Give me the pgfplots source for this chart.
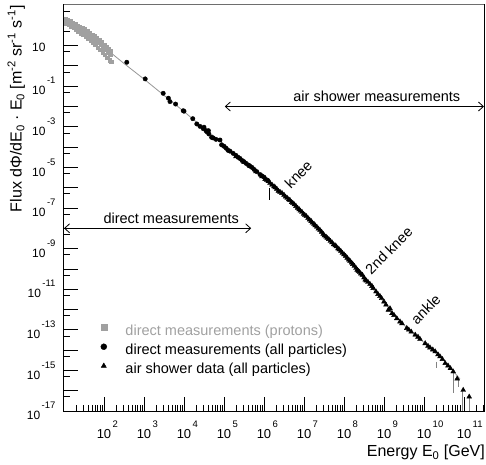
\documentclass[border=0pt]{standalone}
\usepackage{pgfplots}
\pgfplotsset{compat=1.18}
\usepackage{fontspec}
\setmainfont{Liberation Sans}
\usetikzlibrary{arrows.meta}
\definecolor{protgray}{RGB}{160,160,160}
\definecolor{linegray}{RGB}{150,150,150}
\definecolor{framegray}{RGB}{110,110,110}
\definecolor{errgray}{RGB}{130,130,130}

\newcommand\xl[1]{10\rlap{\kern1.5bp\raisebox{11bp}{\fontsize{9.5bp}{10bp}\selectfont #1}}}
\newcommand\yl[1]{10\kern1.5bp\raisebox{11bp}{\fontsize{9.5bp}{10bp}\selectfont #1}}
\newcommand\ylz{10\kern1.5bp\raisebox{11bp}{\fontsize{9.5bp}{10bp}\selectfont\hphantom{-1}}}

\def\xminor{11.30103,11.47712}
\foreach \n in {1,...,10}{\foreach \k in {2,...,9}{\pgfmathparse{\n+log10(\k)}\xdef\xminor{\xminor,\pgfmathresult}}}
\def\yminor{-16.30103}
\foreach \n in {-15,...,3}{\pgfmathparse{\n-0.30103}\xdef\yminor{\yminor,\pgfmathresult}}

\begin{document}
\begin{tikzpicture}
\begin{axis}[
  name=ax,
  at={(0,0)}, anchor=south west,
  scale only axis,
  width=420bp, height=406bp,
  xmin=1, xmax=11.5, ymin=-17, ymax=3,
  clip=false,
  axis line style={line width=1bp},
  xtick={2,...,11},
  xticklabels={\xl{2},\xl{3},\xl{4},\xl{5},\xl{6},\xl{7},\xl{8},\xl{9},\xl{10},\xl{11}},
  minor xtick/.expanded={\xminor},
  ytick={-17,...,2},
  yticklabels={\yl{-17},{},\yl{-15},{},\yl{-13},{},\yl{-11},{},\yl{-9},{},\yl{-7},{},\yl{-5},{},\yl{-3},{},\yl{-1},{},\ylz,{}},
  minor ytick/.expanded={\yminor},
  xtick pos=bottom, ytick pos=left,
  tick align=inside,
  major tick length=14bp, minor tick length=6bp,
  every tick/.style={black, line width=0.8bp},
  xticklabel style={font=\fontsize{13bp}{15bp}\selectfont, yshift=-6bp},
  yticklabel style={font=\fontsize{12bp}{14bp}\selectfont, xshift=-5bp},
  legend style={at={(axis cs:1.92,-12.74)}, anchor=north west, draw=none, fill=none,
     inner sep=0pt, outer sep=0pt, row sep=5.2bp, column sep=18.7bp,
     font=\fontsize{14.5bp}{17bp}\selectfont,
     nodes={inner sep=0pt, text height=10.5bp, text depth=3.5bp}},
  legend cell align=left,
  legend image code/.code={\draw[#1] plot coordinates {(0bp,4bp)};},
  legend image post style={mark size=3bp},
]
% fit line
\addplot[linegray, line width=0.8bp, forget plot] table {
1.0 2.40
1.5 1.65
2.0 0.92
2.5 0.12
3.0 -0.65
3.5 -1.45
4.0 -2.25
4.5 -3.08
5.0 -3.86
5.5 -4.68
6.0 -5.50
6.5 -6.33
7.0 -7.32
7.5 -8.35
8.0 -9.36
8.5 -10.46
9.0 -11.65
9.5 -12.77
10.0 -13.63
10.5 -14.53
10.9 -15.42
};
% direct measurements (protons)
\addplot[only marks, mark=square*, mark size=1.7bp, color=protgray, mark options={draw=protgray, fill=protgray}] table {
1.04 2.33
1.10 2.27
1.16 2.20
1.22 2.13
1.28 2.06
1.34 1.99
1.40 1.92
1.46 1.86
1.52 1.80
1.58 1.74
1.64 1.64
1.70 1.55
1.76 1.47
1.82 1.38
1.88 1.27
1.94 1.16
2.00 1.05
2.06 0.95
2.12 0.84
2.17 0.74
1.06 2.11
1.12 2.04
1.18 1.96
1.24 1.88
1.30 1.79
1.36 1.70
1.42 1.61
1.48 1.53
1.54 1.45
1.60 1.37
1.66 1.26
1.72 1.15
1.78 1.03
1.84 0.91
1.90 0.79
1.96 0.66
2.02 0.54
2.08 0.41
2.14 0.28
2.18 0.20
1.07 2.22
1.13 2.15
1.19 2.08
1.25 2.00
1.31 1.92
1.37 1.84
1.43 1.76
1.49 1.69
1.55 1.62
1.61 1.55
1.67 1.45
1.73 1.35
1.79 1.25
1.85 1.14
1.91 1.03
1.97 0.91
2.03 0.79
2.09 0.67
2.15 0.55
};
\addlegendentry{\textcolor{protgray}{direct measurements (protons)}}
% direct measurements (all particles)
\addplot[only marks, mark=*, mark size=2.2bp, black] table {
2.57 0.18
3.03 -0.64
3.48 -1.35
3.61 -1.59
3.65 -1.76
3.79 -1.88
3.98 -2.21
4.00 -2.23
4.22 -2.60
4.32 -2.86
4.40 -2.98
4.48 -3.09
4.50 -3.02
4.55 -3.19
4.57 -3.24
4.61 -3.19
4.62 -3.35
4.69 -3.52
4.73 -3.55
4.80 -3.62
4.90 -3.65
4.94 -3.89
5.00 -3.96
5.05 -4.05
5.10 -4.16
5.15 -4.20
5.23 -4.31
5.30 -4.41
5.35 -4.50
5.40 -4.56
5.45 -4.66
5.50 -4.72
5.55 -4.80
5.61 -4.88
5.65 -4.94
5.70 -5.00
5.75 -5.10
5.82 -5.21
5.90 -5.35
5.95 -5.42
6.00 -5.48
6.10 -5.65
};
\addlegendentry{direct measurements (all particles)}
% air shower data
\addplot[only marks, mark=triangle*, mark size=2.8bp, black] table {
5.30 -4.46
5.50 -4.74
5.65 -4.95
5.80 -5.20
5.95 -5.45
6.03 -5.58
6.07 -5.62
6.11 -5.68
6.15 -5.77
6.20 -5.86
6.25 -5.94
6.28 -5.99
6.32 -6.06
6.36 -6.16
6.40 -6.21
6.45 -6.27
6.50 -6.36
6.54 -6.45
6.58 -6.51
6.62 -6.58
6.65 -6.62
6.69 -6.72
6.72 -6.76
6.76 -6.83
6.80 -6.91
6.84 -7.00
6.88 -7.07
6.91 -7.14
6.95 -7.20
6.99 -7.30
7.02 -7.35
7.06 -7.41
7.10 -7.50
7.14 -7.58
7.18 -7.65
7.21 -7.73
7.25 -7.79
7.28 -7.86
7.32 -7.93
7.36 -8.02
7.40 -8.09
7.44 -8.18
7.48 -8.28
7.51 -8.36
7.55 -8.42
7.58 -8.48
7.62 -8.54
7.66 -8.63
7.70 -8.70
7.74 -8.80
7.78 -8.85
7.81 -8.90
7.85 -9.00
7.88 -9.05
7.92 -9.12
7.96 -9.22
8.00 -9.29
8.04 -9.37
8.08 -9.46
8.12 -9.55
8.15 -9.61
8.19 -9.70
8.22 -9.77
8.26 -9.86
8.30 -9.96
8.33 -10.05
8.36 -10.11
8.39 -10.16
8.42 -10.24
8.46 -10.30
8.50 -10.43
8.53 -10.54
8.56 -10.58
8.60 -10.65
8.65 -10.75
8.70 -10.85
8.73 -10.95
8.80 -11.12
8.85 -11.25
8.90 -11.35
8.94 -11.45
9.00 -11.62
9.05 -11.77
9.11 -12.02
9.15 -11.95
9.20 -12.19
9.25 -12.28
9.32 -12.44
9.40 -12.60
9.45 -12.69
9.57 -12.92
9.62 -13.00
9.68 -13.10
9.78 -13.25
9.85 -13.35
9.90 -13.46
10.03 -13.67
10.10 -13.80
10.15 -13.88
10.22 -13.98
10.28 -14.07
10.35 -14.22
10.40 -14.32
10.46 -14.45
10.53 -14.65
10.60 -14.77
10.66 -14.90
10.73 -15.06
10.83 -15.41
10.98 -15.97
11.13 -16.30
};
\addlegendentry{air shower data (all particles)}
% error bars
\addplot[black, line width=0.8bp, forget plot] coordinates {(6.13,-6.03) (6.13,-6.61)};
\addplot[errgray, line width=1bp, forget plot] coordinates {(10.32,-14.57) (10.32,-14.90)};
\addplot[errgray, line width=1bp, forget plot] coordinates {(10.73,-15.06) (10.73,-16.10)};
\addplot[errgray, line width=1bp, forget plot] coordinates {(10.85,-15.37) (10.85,-15.80)};
\addplot[errgray, line width=1bp, forget plot] coordinates {(10.97,-15.93) (10.97,-17.00)};
\addplot[errgray, line width=1bp, forget plot] coordinates {(11.13,-16.30) (11.13,-17.00)};
% top frame in gray
\draw[framegray, line width=1bp] (rel axis cs:0,1) -- (rel axis cs:1,1);
% annotations
\draw[line width=0.8bp, {Straight Barb[length=5bp,width=9bp]}-{Straight Barb[length=5bp,width=9bp]}] (axis cs:5.02,-2.0) -- (axis cs:11.5,-2.0);
\node[anchor=base, font=\fontsize{14.5bp}{17bp}\selectfont] at (axis cs:8.82,-1.76) {air shower measurements};
\draw[line width=0.8bp, {Straight Barb[length=5bp,width=9bp]}-{Straight Barb[length=5bp,width=9bp]}] (axis cs:1.0,-8.0) -- (axis cs:5.68,-8.0);
\node[anchor=base, font=\fontsize{14.5bp}{17bp}\selectfont] at (axis cs:3.68,-7.75) {direct measurements};
\node[rotate=45, font=\fontsize{14.5bp}{17bp}\selectfont] at (axis cs:6.86,-5.34) {knee};
\node[rotate=45, font=\fontsize{14.5bp}{17bp}\selectfont] at (axis cs:9.12,-9.10) {2nd knee};
\node[rotate=45, font=\fontsize{14.5bp}{17bp}\selectfont] at (axis cs:10.04,-11.99) {ankle};
\end{axis}
\node[rotate=90, anchor=base east, inner sep=0pt, font=\fontsize{16bp}{19bp}\selectfont] at ([xshift=-42.3bp,yshift=0bp]ax.north west) {Flux dΦ/dE\textsubscript{0} · E\textsubscript{0} [m\textsuperscript{-2} sr\textsuperscript{-1} s\textsuperscript{-1}]};
\node[anchor=base east, inner sep=0pt, font=\fontsize{16bp}{19bp}\selectfont] at ([xshift=1bp,yshift=-45.7bp]ax.south east) {Energy E\textsubscript{0} [GeV]};
\pgfresetboundingbox
\path[use as bounding box] ([xshift=-64bp,yshift=-54bp]ax.south west) rectangle ([xshift=2bp,yshift=5bp]ax.north east);
\end{tikzpicture}
\end{document}
